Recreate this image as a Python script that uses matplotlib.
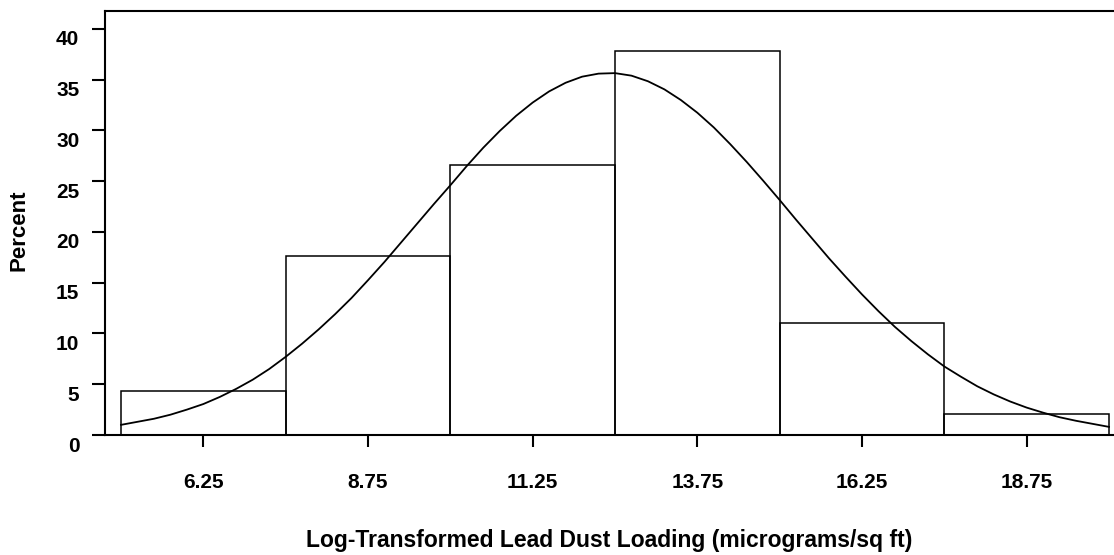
import matplotlib
matplotlib.use("Agg")
import matplotlib.pyplot as plt
import matplotlib.transforms as mtransforms

# ---- data ----
bin_centers = [6.25, 8.75, 11.25, 13.75, 16.25, 18.75]
bin_percent = [4.33, 17.67, 26.6, 37.8, 11.03, 2.1]
bin_width = 2.5

curve_x = [5.0, 5.25, 5.5, 5.75, 6.0, 6.25, 6.5, 6.75, 7.0, 7.25, 7.5, 7.75,
           8.0, 8.25, 8.5, 8.75, 9.0, 9.25, 9.5, 9.75, 10.0, 10.25, 10.5,
           10.75, 11.0, 11.25, 11.5, 11.75, 12.0, 12.25, 12.5, 12.75, 13.0,
           13.25, 13.5, 13.75, 14.0, 14.25, 14.5, 14.75, 15.0, 15.25, 15.5,
           15.75, 16.0, 16.25, 16.5, 16.75, 17.0, 17.25, 17.5, 17.75, 18.0,
           18.25, 18.5, 18.75, 19.0, 19.25, 19.5, 19.75, 20.0]
curve_y = [1.0, 1.3, 1.6, 2.0, 2.5, 3.05, 3.75, 4.55, 5.45, 6.5, 7.7, 9.0,
           10.4, 11.9, 13.5, 15.25, 17.05, 18.95, 20.85, 22.75, 24.6, 26.5,
           28.3, 29.95, 31.45, 32.75, 33.85, 34.7, 35.3, 35.6, 35.65, 35.4,
           34.85, 34.05, 33.0, 31.75, 30.3, 28.65, 26.9, 25.05, 23.15, 21.2,
           19.3, 17.4, 15.6, 13.85, 12.2, 10.65, 9.25, 7.95, 6.75, 5.75, 4.8,
           4.0, 3.3, 2.7, 2.2, 1.75, 1.4, 1.1, 0.8]

x_ticks = [6.25, 8.75, 11.25, 13.75, 16.25, 18.75]
x_ticklabels = ["6.25", "8.75", "11.25", "13.75", "16.25", "18.75"]
y_ticks = [0, 5, 10, 15, 20, 25, 30, 35, 40]

x_label = "Log-Transformed Lead Dust Loading (micrograms/sq ft)"
y_label = "Percent"

plt.rcParams['font.family'] = ['Liberation Sans', 'DejaVu Sans']
plt.rcParams['font.weight'] = 'bold'

W, H = 1114, 555
fig = plt.figure(figsize=(W / 100, H / 100), dpi=100)
ax = fig.add_axes([105 / W, 1 - 435 / H, (W - 105) / W, (435 - 11) / H])

ax.bar(bin_centers, bin_percent, width=bin_width, fill=False,
       edgecolor='black', linewidth=1.1, zorder=2)
ax.plot(curve_x, curve_y, color='black', linewidth=1.3, zorder=3)

ax.set_xlim(4.757, 20.076)
ax.set_ylim(0, 41.77)

ax.set_xticks(x_ticks)
ax.set_xticklabels(x_ticklabels)
ax.set_yticks(y_ticks)

for s in ['left', 'top', 'bottom']:
    ax.spines[s].set_linewidth(1.5)
    ax.spines[s].set_color('black')
ax.spines['right'].set_visible(False)

ax.tick_params(axis='y', direction='out', length=9.5, width=1.5, pad=9,
               labelsize=15)
ax.tick_params(axis='x', direction='out', length=8.5, width=1.5, pad=19,
               labelsize=15)
for lab in ax.get_xticklabels() + ax.get_yticklabels():
    lab.set_fontweight('bold')

# shift y tick labels down slightly as in the reference
offset = mtransforms.ScaledTranslation(0, -9 / 100, fig.dpi_scale_trans)
for lab in ax.get_yticklabels():
    lab.set_transform(lab.get_transform() + offset)

ax.set_xlabel(x_label, fontsize=16.5, fontweight='bold')
ax.xaxis.set_label_coords(0.5, (435 - 541) / 424, transform=ax.transAxes)
ax.xaxis.label.set_va('center')
ax.set_ylabel(y_label, fontsize=16, fontweight='bold')
ax.yaxis.set_label_coords(-(105 - 19.5) / (W - 105), 0.5 - (230 - 223) / 424)
ax.yaxis.label.set_va('center')

fig.savefig("out.png", dpi=100)
